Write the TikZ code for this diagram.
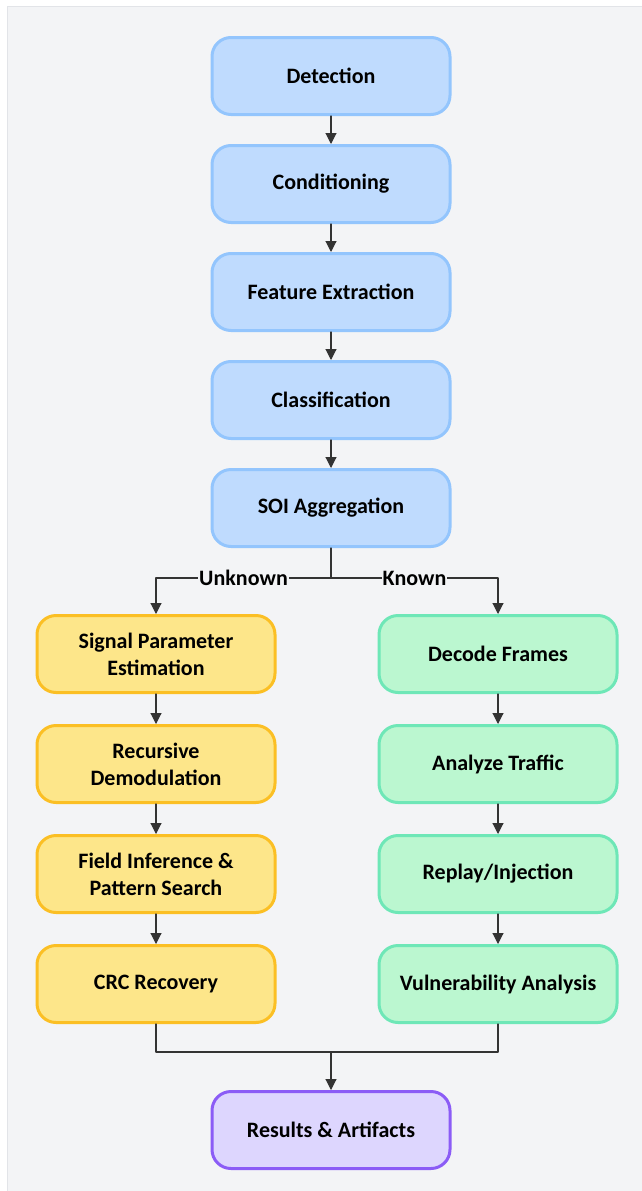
\documentclass[tikz,border=0pt]{standalone}
\usepackage{fontspec}
\setmainfont{Carlito}
\usetikzlibrary{arrows.meta}

\definecolor{canvas}{HTML}{F3F4F6}
\definecolor{frameline}{HTML}{E2E4E8}
\definecolor{blueFill}{HTML}{BFDBFE}
\definecolor{blueLine}{HTML}{93C5FD}
\definecolor{amberFill}{HTML}{FDE68A}
\definecolor{amberLine}{HTML}{FBBF24}
\definecolor{mintFill}{HTML}{BBF7D0}
\definecolor{mintLine}{HTML}{6EE7B7}
\definecolor{violetFill}{HTML}{DDD6FE}
\definecolor{violetLine}{HTML}{8B5CF6}
\definecolor{wire}{HTML}{333333}

\tikzset{
  stage/.style={rounded corners=19pt,line width=3pt,minimum width=238pt,
    minimum height=77pt,inner sep=0pt,align=center,
    font=\bfseries\fontsize{22}{27}\selectfont},
  detect/.style={stage,fill=blueFill,draw=blueLine},
  unknown/.style={stage,fill=amberFill,draw=amberLine},
  known/.style={stage,fill=mintFill,draw=mintLine},
  final/.style={stage,fill=violetFill,draw=violetLine},
  flow/.style={draw=wire,line width=1.1pt,-{Triangle[length=11pt,width=11pt]}},
  wireline/.style={draw=wire,line width=1.1pt},
  tag/.style={fill=canvas,inner sep=1pt,font=\bfseries\fontsize{22}{24}\selectfont}
}

\begin{document}
\begin{tikzpicture}[x=1pt,y=-1pt,line cap=round,line join=round]
  \useasboundingbox (0,0) rectangle (642,1191);
  \fill[white] (0,0) rectangle (642,1191);
  \filldraw[fill=canvas,draw=frameline] (7,6) rectangle (643,1192);

  % detection chain
  \node[detect] (det)  at (331,76)  {Detection};
  \node[detect] (cond) at (331,184) {Conditioning};
  \node[detect] (feat) at (331,292) {Feature Extraction};
  \node[detect] (cls)  at (331,400) {Classification};
  \node[detect] (soi)  at (331,508) {SOI Aggregation};

  % unknown branch
  \node[unknown] (sig)   at (156,654) {Signal Parameter\\Estimation};
  \node[unknown] (demod) at (156,764) {Recursive\\Demodulation};
  \node[unknown] (field) at (156,874) {Field Inference \&\\Pattern Search};
  \node[unknown] (crc)   at (156,984) {CRC Recovery};

  % known branch
  \node[known] (dec)    at (498,654) {Decode Frames};
  \node[known] (traf)   at (498,764) {Analyze Traffic};
  \node[known] (replay) at (498,874) {Replay/Injection};
  \node[known] (vuln)   at (498,984) {Vulnerability Analysis};

  \node[final] (res) at (331,1130) {Results \& Artifacts};

  \foreach \a/\b in {det/cond,cond/feat,feat/cls,cls/soi,
    sig/demod,demod/field,field/crc,dec/traf,traf/replay,replay/vuln}
    \draw[flow] (\a) -- (\b);

  \coordinate (split) at (331,578);
  \coordinate (merge) at (331,1052);
  \draw[wireline] (soi) -- (split);
  \draw[flow] (split) -- node[tag] {Unknown} (split -| sig) -- (sig);
  \draw[flow] (split) -- node[tag] {Known} (split -| dec) -- (dec);
  \draw[wireline] (crc) |- (merge);
  \draw[wireline] (vuln) |- (merge);
  \draw[flow] (merge) -- (res);
\end{tikzpicture}
\end{document}
